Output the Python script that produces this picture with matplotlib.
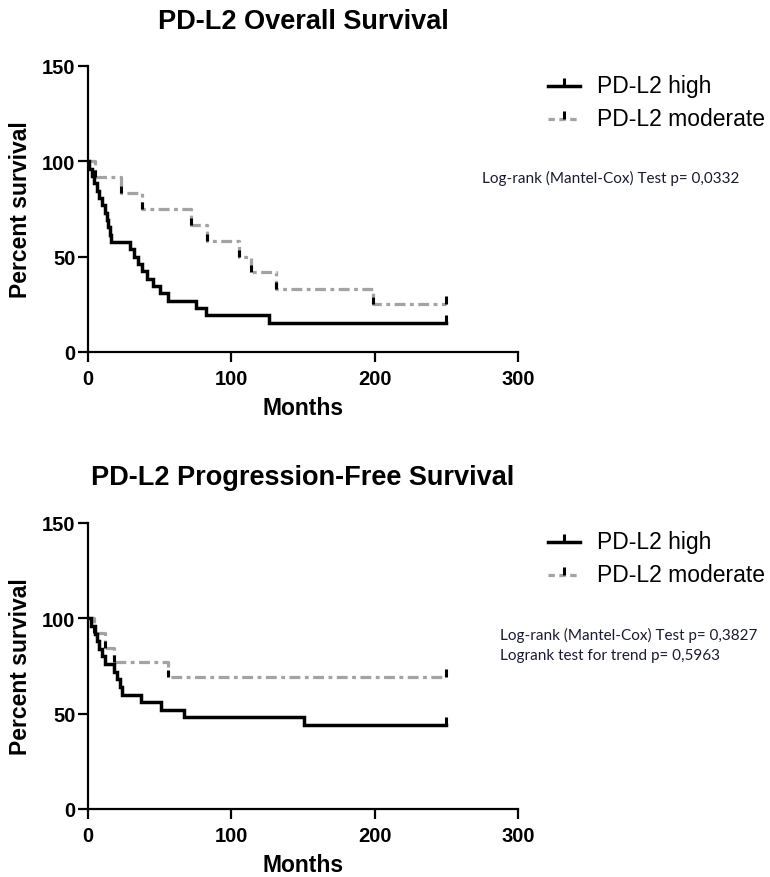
import matplotlib
matplotlib.use("Agg")
import matplotlib.pyplot as plt
from matplotlib.lines import Line2D

# ---------------- data ----------------
os_high_t = [0, 1, 3, 4, 6, 8, 10, 12, 13, 14, 15, 16, 29, 32, 35, 38, 41, 45, 50, 56, 75, 82, 126, 250]
os_high_s = [100, 96.2, 92.3, 88.5, 84.6, 80.8, 76.9, 73.1, 69.2, 65.4, 61.5, 57.7,
             53.8, 50.0, 46.2, 42.3, 38.5, 34.6, 30.8, 26.9, 23.1, 19.2, 15.4, 15.4]
os_mod_t = [0, 5, 23, 38, 72, 83, 105, 114, 131, 199, 250]
os_mod_s = [100, 91.7, 83.3, 75.0, 66.7, 58.3, 50.0, 41.7, 33.3, 25.0, 25.0]

pfs_high_t = [0, 2, 5, 6, 8, 10, 12, 18, 20, 22, 24, 37, 51, 67, 151, 250]
pfs_high_s = [100, 96, 92, 88, 84, 80, 76, 72, 68, 64, 60, 56, 52, 48, 44, 44]
pfs_mod_t = [0, 4, 12, 18, 56, 250]
pfs_mod_s = [100, 92.3, 84.6, 76.9, 69.2, 69.2]

censor_t = 250
series_labels = ["PD-L2 high", "PD-L2 moderate"]
titles = ["PD-L2 Overall Survival", "PD-L2 Progression-Free Survival"]
notes = [["Log-rank (Mantel-Cox) Test p= 0,0332"],
         ["Log-rank (Mantel-Cox) Test p= 0,3827", "Logrank test for trend p= 0,5963"]]
xticks = [0, 100, 200, 300]
yticks = [0, 50, 100, 150]

# ---------------- style ----------------
SANS = "Liberation Sans"
NOTE_FONT = "Lato"
GRAY = "#a3a3a3"
DASH = (0, (3.4, 1.4, 1.2, 1.4))
W, H = 770, 878

fig = plt.figure(figsize=(W / 100, H / 100), dpi=100)

panels = [
    dict(ax=(88, 67, 430, 286), high=(os_high_t, os_high_s), mod=(os_mod_t, os_mod_s),
         title=titles[0], title_y=22, notes=notes[0], note_x=482, note_y=[178],
         leg_y=[87, 120]),
    dict(ax=(88, 524, 430, 286), high=(pfs_high_t, pfs_high_s), mod=(pfs_mod_t, pfs_mod_s),
         title=titles[1], title_y=478, notes=notes[1], note_x=500, note_y=[635, 656],
         leg_y=[543, 576]),
]

for p in panels:
    x0, y0, w, h = p["ax"]
    ax = fig.add_axes([x0 / W, 1 - (y0 + h) / H, w / W, h / H])
    ht, hs = p["high"]
    mt, ms = p["mod"]
    # high group
    ax.step(ht, hs, where="post", color="black", lw=2.5, solid_joinstyle="miter", zorder=3)
    # moderate group
    ax.step(mt, ms, where="post", color=GRAY, lw=2.3, linestyle=DASH, zorder=2)
    # event / censor ticks for moderate (black ticks)
    ax.plot(mt[1:-1], ms[1:-1], linestyle="none", marker=2, markersize=5,
            markeredgewidth=2.2, color="black", zorder=4)
    ax.plot([censor_t], [ms[-1]], linestyle="none", marker=2, markersize=6,
            markeredgewidth=2.2, color="black", zorder=4)
    ax.plot([censor_t], [hs[-1]], linestyle="none", marker=2, markersize=6,
            markeredgewidth=2.2, color="black", zorder=4)

    ax.set_xlim(0, 300)
    ax.set_ylim(0, 150)
    ax.set_xticks(xticks)
    ax.set_yticks(yticks)
    for s in ["top", "right"]:
        ax.spines[s].set_visible(False)
    for s in ["left", "bottom"]:
        ax.spines[s].set_linewidth(1.6)
    ax.tick_params(direction="out", length=7, width=1.6, labelsize=14.5)
    ax.tick_params(axis="x", pad=5)
    ax.tick_params(axis="y", pad=2)
    for lab in ax.get_xticklabels() + ax.get_yticklabels():
        lab.set_fontweight("bold")
        lab.set_fontfamily(SANS)
    ax.set_xlabel("Months", fontsize=16.5, fontweight="bold", family=SANS, labelpad=6)
    ax.set_ylabel("Percent survival", fontsize=16.5, fontweight="bold", family=SANS, labelpad=7)

    fig.text((x0 + w / 2) / W, 1 - p["title_y"] / H, p["title"], ha="center", va="center",
             fontsize=19.5, fontweight="bold", family=SANS)

    # legend (manual, drawn in figure coords)
    for i, (lab, ly) in enumerate(zip(series_labels, p["leg_y"])):
        yy = 1 - ly / H
        if i == 0:
            fig.add_artist(Line2D([548 / W, 580 / W], [yy, yy], color="black", lw=2.5))
        else:
            fig.add_artist(Line2D([548 / W, 580 / W], [yy, yy], color=GRAY, lw=2.3,
                                  linestyle=(0, (2.0, 1.4, 2.0, 1.4))))
        fig.add_artist(Line2D([564 / W], [yy], marker=2, markersize=6, markeredgewidth=2.2,
                              color="black", linestyle="none"))
        fig.text(597 / W, yy, lab, ha="left", va="center", fontsize=16.5, family=SANS)

    for txt, ny in zip(p["notes"], p["note_y"]):
        fig.text(p["note_x"] / W, 1 - ny / H, txt, ha="left", va="center",
                 fontsize=11, family=NOTE_FONT, color="#1a1a33")

fig.savefig("out.png", dpi=100)
